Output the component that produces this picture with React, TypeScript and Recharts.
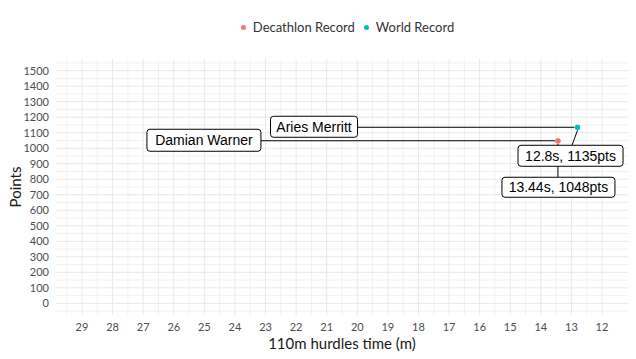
import React from 'react';
import { ScatterChart, Scatter, XAxis, YAxis, CartesianGrid } from 'recharts';

const seriesNames = ['Decathlon Record', 'World Record'];
const athletes = ['Damian Warner', 'Aries Merritt'];
const hurdleTimes = [13.44, 12.8];
const hurdlePoints = [1048, 1135];
const xTicks = [12, 13, 14, 15, 16, 17, 18, 19, 20, 21, 22, 23, 24, 25, 26, 27, 28, 29];
const yTicks = [0, 100, 200, 300, 400, 500, 600, 700, 800, 900, 1000, 1100, 1200, 1300, 1400, 1500];

const COLORS = ['#F8766D', '#00BFC4'];

// minor grid lines sit halfway between the major ticks
const xMinor = [...xTicks.slice(1).map((t) => t - 0.5), 29.5];
const yMinor = [-50, ...yTicks.map((t) => t + 50)];

// ggrepel-like label placement, offsets in px from the point
const LABEL_LAYOUT = [
  {
    name: { left: -411, top: -11.5, w: 114, h: 22 },
    value: { left: -56, top: 36.5, w: 113, h: 20, anchor: 0 },
  },
  {
    name: { left: -307, top: -11, w: 87, h: 21 },
    value: { left: -59.5, top: 18, w: 105, h: 21, anchor: -5.5 },
  },
];

const labelFont = '"Liberation Sans", Arial, sans-serif';
const axisFont = 'Lato, "Open Sans", sans-serif';

const makeShape = (idx: number) => (props: any) => {
  const { cx, cy, payload } = props;
  const lay = LABEL_LAYOUT[idx];
  const n = lay.name;
  const v = lay.value;
  const valueText = `${payload.time}s, ${payload.points}pts`;
  return (
    <g>
      <circle cx={cx} cy={cy} r={2.6} fill={COLORS[idx]} />
      <line x1={cx + n.left + n.w} y1={cy} x2={cx - 3} y2={cy} stroke="#000" strokeWidth={1} />
      <rect x={cx + n.left} y={cy + n.top} width={n.w} height={n.h} rx={3} fill="#fff" stroke="#000" strokeWidth={1} />
      <text x={cx + n.left + n.w / 2} y={cy + n.top + n.h / 2 + 5} textAnchor="middle" fontSize={14} fontFamily={labelFont} fill="#000">
        {payload.athlete}
      </text>
      <line x1={cx + v.anchor} y1={cy + v.top} x2={cx} y2={cy + 3} stroke="#000" strokeWidth={1} />
      <rect x={cx + v.left} y={cy + v.top} width={v.w} height={v.h} rx={3} fill="#fff" stroke="#000" strokeWidth={1} />
      <text x={cx + v.left + v.w / 2} y={cy + v.top + v.h / 2 + 5} textAnchor="middle" fontSize={14} fontFamily={labelFont} fill="#000">
        {valueText}
      </text>
      <circle cx={cx} cy={cy} r={2.6} fill={COLORS[idx]} />
    </g>
  );
};

export default function App() {
  const seriesData = seriesNames.map((name, i) => ({
    name,
    data: [{ time: hurdleTimes[i], points: hurdlePoints[i], athlete: athletes[i] }],
  }));

  return (
    <div style={{ position: 'absolute', left: 0, top: 0, width: 636, height: 359, background: '#fff' }}>
      <div
        style={{
          position: 'absolute',
          top: 19,
          left: 0,
          width: 636,
          display: 'flex',
          justifyContent: 'center',
          fontFamily: axisFont,
          fontSize: 13,
          color: '#333',
          paddingLeft: 68,
          boxSizing: 'border-box',
        }}
      >
        {seriesNames.map((s, i) => (
          <div key={s} style={{ display: 'flex', alignItems: 'center', marginRight: 9 }}>
            <span style={{ width: 5, height: 5, borderRadius: '50%', background: COLORS[i], display: 'inline-block', marginRight: 7 }} />
            <span>{s}</span>
          </div>
        ))}
      </div>
      <ScatterChart width={636} height={359} margin={{ top: 59, right: 8, bottom: 0, left: 0 }}>
        <CartesianGrid stroke="#f1f1f1" horizontalValues={yMinor} verticalValues={xMinor} />
        <CartesianGrid stroke="#e8e8e8" horizontalValues={yTicks} verticalValues={xTicks} />
        <XAxis
          type="number"
          dataKey="time"
          reversed
          domain={[11.15, 29.85]}
          ticks={xTicks}
          interval={0}
          allowDataOverflow
          axisLine={false}
          tickLine={false}
          tickSize={0}
          tickMargin={8}
          height={44}
          tick={{ fontSize: 11, fill: '#4d4d4d', fontFamily: axisFont }}
          label={{ value: '110m hurdles time (m)', position: 'insideBottom', offset: 10, fontSize: 15, fill: '#1a1a1a', fontFamily: axisFont }}
        />
        <YAxis
          type="number"
          dataKey="points"
          domain={[-75, 1575]}
          ticks={yTicks}
          interval={0}
          allowDataOverflow
          axisLine={false}
          tickLine={false}
          tickSize={0}
          tickMargin={7}
          width={56}
          tick={{ fontSize: 11, fill: '#4d4d4d', fontFamily: axisFont }}
          label={{ value: 'Points', angle: -90, position: 'insideLeft', offset: 16, fontSize: 15, fill: '#1a1a1a', fontFamily: axisFont, style: { textAnchor: 'middle' } }}
        />
        {seriesData.map((s, i) => (
          <Scatter key={s.name} name={s.name} data={s.data} fill={COLORS[i]} shape={makeShape(i)} isAnimationActive={false} />
        ))}
      </ScatterChart>
    </div>
  );
}
